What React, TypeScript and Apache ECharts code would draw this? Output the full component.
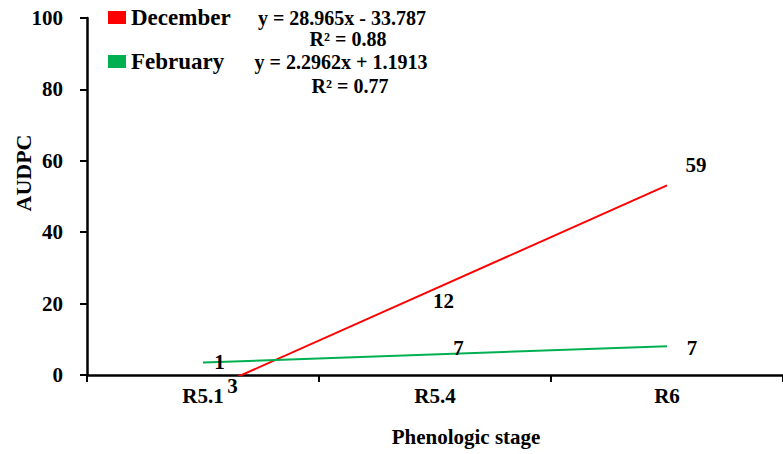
import React, { useEffect, useRef } from "react";
import * as echarts from "echarts";

// ---- data ----
const categories = ["R5.1", "R5.4", "R6"];
const decemberValues = [3, 12, 59];
const februaryValues = [1, 7, 7];
// trendline coefficients shown on the chart: [slope, intercept]
const decemberFit = [28.965, -33.787];
const februaryFit = [2.2962, 1.1913];
const decemberR2 = 0.88;
const februaryR2 = 0.77;
const yMin = 0;
const yMax = 100;
const yInterval = 20;

// ---- styles ----
const FONT = "'Liberation Serif', 'Times New Roman', serif";
const RED = "#ff0000";
const GREEN = "#00b050";
const decLabelOffsets = [[29.5, 21.7], [8.5, -31], [29, 0.7]];
const febLabelOffsets = [[16.5, -9.4], [23.5, -2], [25, -2]];

function trend(fit: number[], x: number): number[] {
  return [x, fit[0] * x + fit[1]];
}

function eqText(fit: number[]): string {
  const sign = fit[1] < 0 ? "-" : "+";
  return `y = ${fit[0]}x ${sign} ${Math.abs(fit[1])}`;
}

export default function App() {
  const ref = useRef<HTMLDivElement>(null);
  useEffect(() => {
    if (!ref.current) return;
    const chart = echarts.init(ref.current, null, { renderer: "svg" });
    const labelBase = {
      show: true,
      position: "inside",
      color: "#000",
      opacity: 1,
      textBorderWidth: 0,
      fontSize: 21,
      fontWeight: "bold",
      fontFamily: FONT,
      formatter: (p: any) => String(p.value),
    };
    const eqStyle = { fontSize: 20, fontWeight: "bold", fontFamily: FONT, fill: "#000", textAlign: "center", textVerticalAlign: "middle" };
    const n = categories.length;
    chart.setOption({
      animation: false,
      backgroundColor: "#fff",
      grid: { left: 87, right: -5, top: 18, bottom: 79, containLabel: false },
      legend: {
        data: ["December", "February"],
        orient: "vertical",
        left: 103,
        top: 1,
        icon: "rect",
        itemWidth: 18,
        itemHeight: 13,
        itemGap: 21,
        textStyle: { fontSize: 23, fontWeight: "bold", fontFamily: FONT, color: "#000" },
      },
      xAxis: [
        {
          type: "category",
          data: categories,
          boundaryGap: true,
          axisLine: { lineStyle: { color: "#000", width: 2.5 } },
          axisTick: { show: true, length: 7, lineStyle: { color: "#000", width: 2 } },
          axisLabel: { margin: 10, fontSize: 21, fontWeight: "bold", fontFamily: FONT, color: "#000" },
          splitLine: { show: false },
        },
        { type: "value", min: 0.5, max: n + 0.5, show: false },
      ],
      yAxis: {
        type: "value",
        min: yMin,
        max: yMax,
        interval: yInterval,
        axisLine: { show: true, lineStyle: { color: "#000", width: 2.5 } },
        axisTick: { show: true, length: 7, lineStyle: { color: "#000", width: 2 } },
        axisLabel: { margin: 24, fontSize: 21, fontWeight: "bold", fontFamily: FONT, color: "#000" },
        splitLine: { show: false },
      },
      series: [
        {
          name: "December",
          type: "line",
          xAxisIndex: 1,
          yAxisIndex: 0,
          symbol: "none",
          clip: true,
          color: RED,
          lineStyle: { color: RED, width: 2 },
          data: [trend(decemberFit, 1), trend(decemberFit, n)],
          silent: true,
        },
        {
          name: "February",
          type: "line",
          xAxisIndex: 1,
          yAxisIndex: 0,
          symbol: "none",
          clip: true,
          color: GREEN,
          lineStyle: { color: GREEN, width: 2 },
          data: [trend(februaryFit, 1), trend(februaryFit, n)],
          silent: true,
        },
        {
          name: "December labels",
          type: "scatter",
          xAxisIndex: 0,
          symbolSize: 1,
          itemStyle: { color: "rgba(0,0,0,0)" },
          label: labelBase,
          data: decemberValues.map((v, i) => ({ value: v, label: { offset: decLabelOffsets[i] } })),
          z: 5,
        },
        {
          name: "February labels",
          type: "scatter",
          xAxisIndex: 0,
          symbolSize: 1,
          itemStyle: { color: "rgba(0,0,0,0)" },
          label: labelBase,
          data: februaryValues.map((v, i) => ({ value: v, label: { offset: febLabelOffsets[i] } })),
          z: 5,
        },
      ],
      graphic: [
        { type: "text", x: 342, y: 18, style: { ...eqStyle, text: eqText(decemberFit) } },
        { type: "text", x: 348, y: 39, style: { ...eqStyle, text: `R² = ${decemberR2}` } },
        { type: "text", x: 341, y: 62, style: { ...eqStyle, text: eqText(februaryFit) } },
        { type: "text", x: 350, y: 86, style: { ...eqStyle, text: `R² = ${februaryR2}` } },
        {
          type: "text",
          x: 23,
          y: 173,
          rotation: Math.PI / 2,
          style: { text: "AUDPC", fontSize: 22, fontWeight: "bold", fontFamily: FONT, fill: "#000", textAlign: "center", textVerticalAlign: "middle" },
        },
        {
          type: "text",
          x: 466,
          y: 437,
          style: { text: "Phenologic stage", fontSize: 21, fontWeight: "bold", fontFamily: FONT, fill: "#000", textAlign: "center", textVerticalAlign: "middle" },
        },
      ],
    });
    return () => chart.dispose();
  }, []);
  return (
    <div
      ref={ref}
      style={{ position: "fixed", left: 0, top: 0, width: 783, height: 454, background: "#fff" }}
    />
  );
}
